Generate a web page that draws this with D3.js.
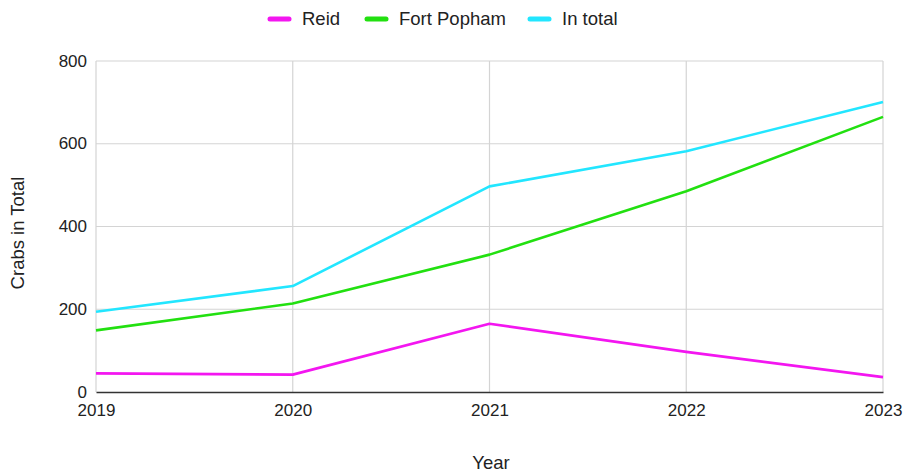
<!DOCTYPE html>
<html>
<head>
<meta charset="utf-8">
<script src="https://cdn.jsdelivr.net/npm/d3@7"></script>
<style>
  body { margin: 0; background: #fff; }
  svg text { font-family: "Liberation Sans", Arial, sans-serif; fill: #222; }
</style>
</head>
<body>
<svg id="chart" width="906" height="473"></svg>
<script>
// Crab counts per site and year
const years = [2019, 2020, 2021, 2022, 2023];
const reid = [45, 42, 165, 97, 36];
const fortPopham = [149, 214, 332, 485, 665];
const inTotal = [194, 256, 497, 582, 701];
const yTicks = [0, 200, 400, 600, 800];

const seriesNames = ["Reid", "Fort Popham", "In total"];
const seriesColors = ["#f316f0", "#22e010", "#22e6ff"];
const seriesValues = [reid, fortPopham, inTotal];

const svg = d3.select("#chart");
const margin = { left: 96, right: 23, top: 61, bottom: 81 };
const W = 906, H = 473;

const x = d3.scalePoint().domain(years).range([margin.left, W - margin.right]);
const y = d3.scaleLinear().domain([0, 800]).range([H - margin.bottom, margin.top]);

// gridlines
svg.append("g").selectAll("line.h").data(yTicks.slice(1)).join("line")
  .attr("x1", margin.left).attr("x2", W - margin.right)
  .attr("y1", d => y(d)).attr("y2", d => y(d))
  .attr("stroke", "#d4d4d4").attr("stroke-width", 1.2);
svg.append("g").selectAll("line.v").data(years).join("line")
  .attr("x1", d => x(d)).attr("x2", d => x(d))
  .attr("y1", y(800)).attr("y2", y(0))
  .attr("stroke", "#d4d4d4").attr("stroke-width", 1.2);

// y axis labels
const yAxis = svg.append("g").attr("transform", `translate(${margin.left},0)`)
  .call(d3.axisLeft(y).tickValues(yTicks).tickSize(0).tickPadding(9));
yAxis.select(".domain").remove();
yAxis.selectAll("text").attr("font-size", 17).attr("fill", "#222").attr("dy", "0.3em");

// x axis with baseline
const xAxis = svg.append("g").attr("transform", `translate(0,${y(0)})`)
  .call(d3.axisBottom(x).tickFormat(d3.format("d")).tickSize(0).tickPadding(12));
xAxis.select(".domain").attr("stroke", "#333").attr("stroke-width", 1.5);
xAxis.selectAll("text").attr("font-size", 17).attr("fill", "#222");

// lines
const line = d3.line().x((d, i) => x(years[i])).y(d => y(d));
svg.append("g").selectAll("path").data(seriesValues).join("path")
  .attr("d", line)
  .attr("fill", "none")
  .attr("stroke", (d, i) => seriesColors[i])
  .attr("stroke-width", 2.6)
  .attr("stroke-linejoin", "round");

// axis titles
svg.append("text").attr("x", 491).attr("y", 469).attr("text-anchor", "middle")
  .attr("font-size", 18.5).text("Year");
svg.append("text").attr("transform", "translate(24,233) rotate(-90)")
  .attr("text-anchor", "middle").attr("font-size", 18.5).text("Crabs in Total");

// legend
const legendX = [270, 367, 530];
const legend = svg.append("g").selectAll("g").data(seriesNames).join("g")
  .attr("transform", (d, i) => `translate(${legendX[i]},19)`);
legend.append("line").attr("x1", 0).attr("x2", 19).attr("y1", 0).attr("y2", 0)
  .attr("stroke", (d, i) => seriesColors[i]).attr("stroke-width", 5).attr("stroke-linecap", "round");
legend.append("text").attr("x", 32).attr("y", 0).attr("dy", "0.35em")
  .attr("font-size", 18.5).text(d => d);
</script>
</body>
</html>
